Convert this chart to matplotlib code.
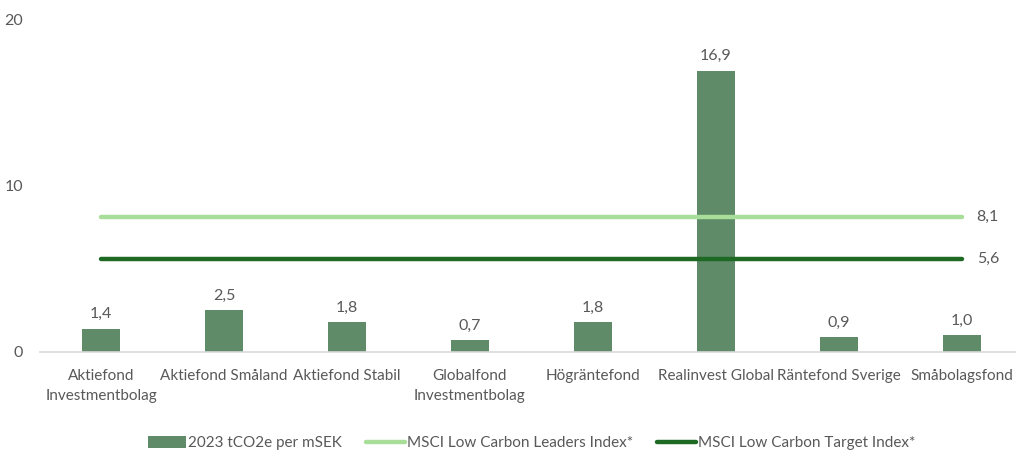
import matplotlib.pyplot as plt
import numpy as np

plt.rcParams['font.family'] = ['Lato', 'DejaVu Sans']

# Data
funds = ["Aktiefond\nInvestmentbolag", "Aktiefond Småland", "Aktiefond Stabil",
         "Globalfond\nInvestmentbolag", "Högräntefond", "Realinvest Global",
         "Räntefond Sverige", "Småbolagsfond"]
values = [1.4, 2.5, 1.8, 0.7, 1.8, 16.9, 0.9, 1.0]
leaders_index = 8.1
target_index = 5.6

bar_color = '#5f8b69'
light_green = '#a8dd9a'
dark_green = '#1e6a24'
text_color = '#595959'

fig = plt.figure(figsize=(10.16, 4.57), dpi=100)
ax = fig.add_axes([0.0389, 0.2298, 0.9611, 0.7282])

x = np.arange(len(funds))
bars = ax.bar(x, values, width=0.31, color=bar_color, label='2023 tCO2e per mSEK', zorder=2)
for xi, v in zip(x, values):
    ax.text(xi, v + 0.45, f"{v:.1f}".replace('.', ','), ha='center', va='bottom',
            fontsize=11.5, color=text_color)

# Index lines across category centres
l1, = ax.plot([x[0], x[-1]], [leaders_index] * 2, color=light_green, lw=3.2,
              solid_capstyle='round', label='MSCI Low Carbon Leaders Index*', zorder=3)
l2, = ax.plot([x[0], x[-1]], [target_index] * 2, color=dark_green, lw=3.2,
              solid_capstyle='round', label='MSCI Low Carbon Target Index*', zorder=3)
ax.text(x[-1] + 0.12, leaders_index, f"{leaders_index:.1f}".replace('.', ','),
        va='center', ha='left', fontsize=11.5, color=text_color)
ax.text(x[-1] + 0.12, target_index, f"{target_index:.1f}".replace('.', ','),
        va='center', ha='left', fontsize=11.5, color=text_color)

ax.set_xlim(-0.5, 7.44)
ax.set_ylim(0, 20)
ax.set_yticks([0, 10, 20])
ax.set_yticklabels(['0', '10', '20'])
ax.set_xticks(x)
ax.set_xticklabels(funds, fontsize=11, color=text_color, linespacing=1.6)
ax.tick_params(axis='y', length=0, labelsize=11.5, labelcolor=text_color, pad=12)
ax.tick_params(axis='x', length=0, pad=12)

for side in ['top', 'right', 'left']:
    ax.spines[side].set_visible(False)
ax.spines['bottom'].set_color('#d9d9d9')
ax.spines['bottom'].set_linewidth(1.2)

leg = fig.legend([bars, l1, l2], [bars.get_label(), l1.get_label(), l2.get_label()],
                 loc='center', bbox_to_anchor=(0.523, 0.03), ncol=3, frameon=False,
                 fontsize=11, handlelength=2.5, handleheight=0.8, handletextpad=0.15,
                 columnspacing=1.6)
for t in leg.get_texts():
    t.set_color(text_color)

fig.savefig('out.png', dpi=100)
